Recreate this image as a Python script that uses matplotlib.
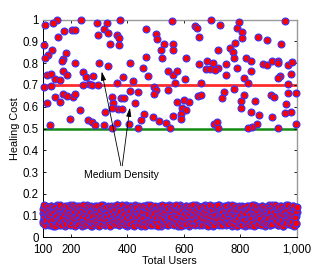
import numpy as np
import matplotlib.pyplot as plt

plt.rcParams['font.family'] = ['Liberation Sans', 'DejaVu Sans']

# users with high healing cost
high_users = [152, 235, 138, 108, 293, 327, 176, 203, 214, 317, 297, 153, 105, 133, 120, 107, 183, 173, 168, 214,
              300, 333, 244, 171, 116, 129, 144, 161, 185, 253, 279, 244, 265, 274, 297, 105, 129, 145, 173, 185,
              206, 214, 114, 161, 232, 321, 197, 262, 274, 126, 285, 317,
              373, 362, 370, 332, 337, 370, 465, 502, 506, 531, 519, 563, 563, 465, 524, 409, 454, 474,
              383, 419, 362, 545, 563, 495, 500, 495, 545, 439, 409, 347, 376, 388, 350, 427, 368, 347,
              380, 460, 492, 563, 448, 513, 362, 406, 536, 344, 439, 551,
              695, 728, 640, 646, 655, 787, 557, 781, 764, 775, 722, 778, 608, 683, 704, 655, 750, 787,
              722, 679, 693, 711, 575, 750, 604, 568, 660, 742, 779, 734, 651, 660, 601, 577, 619, 593,
              608, 589, 589, 707, 719, 722,
              958, 796, 807, 805, 862, 896, 943, 820, 838, 882, 894, 914, 933, 935, 970, 984, 837, 980,
              941, 935, 814, 826, 970, 814, 803, 852, 909, 921, 968, 998, 961, 803, 838, 958, 980, 867,
              911, 858, 841, 826, 935, 998]
high_cost = [1.0, 1.0, 0.985, 0.977, 0.985, 0.985, 0.946, 0.954, 0.954, 0.958, 0.928, 0.919, 0.885, 0.859, 0.839,
             0.824, 0.847, 0.819, 0.808, 0.803, 0.803, 0.785, 0.759, 0.765, 0.747, 0.750, 0.728, 0.724, 0.744,
             0.736, 0.739, 0.698, 0.704, 0.698, 0.70, 0.693, 0.695, 0.647, 0.659, 0.650, 0.647, 0.658, 0.617,
             0.624, 0.586, 0.578, 0.543, 0.540, 0.532, 0.517, 0.517, 0.517,
             1.0, 0.928, 0.916, 0.939, 0.888, 0.885, 0.958, 0.934, 0.913, 0.888, 0.862, 0.888, 0.862, 0.828,
             0.824, 0.803, 0.778, 0.739, 0.736, 0.719, 0.711, 0.762, 0.747, 0.693, 0.678, 0.659, 0.675, 0.670,
             0.673, 0.643, 0.640, 0.640, 0.617, 0.619, 0.590, 0.594, 0.590, 0.566, 0.555, 0.558, 0.540, 0.535,
             0.525, 0.521, 0.525, 0.504, 0.504, 0.502,
             1.0, 0.977, 0.969, 0.962, 0.919, 0.962, 0.992, 0.893, 0.870, 0.851, 0.862, 0.824, 0.826, 0.811,
             0.803, 0.797, 0.797, 0.778, 0.778, 0.773, 0.773, 0.770, 0.765, 0.747, 0.728, 0.709, 0.709, 0.670,
             0.682, 0.640, 0.650, 0.654, 0.632, 0.621, 0.621, 0.596, 0.586, 0.566, 0.543, 0.521, 0.529, 0.504,
             0.992, 0.989, 0.943, 0.916, 0.919, 0.908, 0.888, 0.826, 0.808, 0.796, 0.790, 0.811, 0.811, 0.801,
             0.790, 0.805, 0.762, 0.750, 0.739, 0.734, 0.731, 0.711, 0.705, 0.652, 0.627, 0.627, 0.655, 0.647,
             0.663, 0.665, 0.612, 0.594, 0.578, 0.571, 0.574, 0.560, 0.551, 0.520, 0.509, 0.502, 0.502, 0.520]

# users with low healing cost
low_users = [100, 101, 104, 106, 109, 110, 113, 115, 118, 121, 122, 124, 127, 130, 131, 134, 135, 138, 141, 142,
             145, 148, 149, 151, 154, 157, 158, 160, 163, 166, 167, 170, 173, 174, 176, 179, 182, 183, 186, 188,
             191, 193, 195, 198, 200, 201, 204, 207, 208, 211, 213, 216, 217, 220, 223, 224, 226, 229, 232, 233,
             236, 238, 240, 242, 245, 247, 250, 251, 254, 256, 258, 261, 263, 265, 267, 270, 272, 274, 276, 279,
             281, 282, 285, 287, 290, 291, 294, 297, 298, 300, 303, 305, 307, 310, 312, 314, 316, 319, 321, 323,
             325, 328, 330, 332, 335, 337, 339, 341, 344, 346, 348, 351, 353, 355, 357, 360, 362, 364, 366, 369,
             371, 373, 375, 378, 380, 382, 384, 387, 389, 391, 394, 396, 398, 400, 403, 405, 407, 410, 411, 414,
             416, 419, 420, 423, 425, 428, 430, 432, 434, 437, 439, 441, 443, 446, 448, 450, 452, 455, 457, 459,
             461, 464, 466, 468, 470, 473, 474, 477, 479, 482, 484, 486, 488, 491, 493, 495, 497, 500, 502, 504,
             506, 509, 511, 513, 515, 518, 520, 522, 525, 527, 529, 531, 534, 536, 538, 540, 543, 545, 547, 549,
             551, 554, 556, 558, 560, 563, 565, 567, 569, 572, 574, 576, 579, 581, 583, 585, 588, 590, 592, 594,
             597, 599, 601, 603, 606, 608, 610, 613, 615, 617, 619, 622, 624, 626, 628, 631, 633, 635, 638, 640,
             642, 644, 647, 649, 651, 653, 656, 658, 660, 663, 665, 667, 669, 672, 674, 676, 678, 681, 683, 685,
             688, 690, 692, 694, 697, 699, 701, 703, 706, 708, 710, 712, 715, 717, 719, 722, 724, 726, 728, 730,
             732, 735, 737, 739, 742, 744, 746, 748, 751, 753, 755, 757, 760, 762, 764, 766, 769, 771, 773, 775,
             778, 780, 782, 785, 787, 789, 791, 794, 796, 798, 800, 803, 805, 807, 809, 812, 814, 816, 818, 820,
             823, 825, 827, 830, 832, 834, 836, 839, 841, 843, 845, 848, 850, 852, 855, 857, 859, 861, 864, 866,
             868, 870, 873, 875, 877, 879, 882, 884, 886, 889, 891, 893, 895, 898, 900, 902, 904, 907, 909, 911,
             913, 916, 918, 920, 922, 925, 927, 929, 932, 934, 936, 938, 941, 943, 945, 947, 950, 952, 954, 957,
             959, 961, 963, 966, 968, 970, 972, 975, 977, 979, 981, 984, 986, 988, 991, 993, 995, 997, 999, 1000]
# two overlapping low-cost values per user position, in thousandths
low_cost_a = [112, 74, 138, 95, 61, 127, 143, 83, 105, 58, 131, 99, 70, 146, 117, 88, 54, 124, 102, 137,
              66, 91, 149, 79, 113, 57, 135, 96, 72, 121, 141, 63, 108, 85, 129, 52, 118, 97, 145, 76,
              133, 69, 101, 147, 81, 122, 56, 110, 139, 90, 64, 126, 103, 75, 144, 59, 115, 93, 136, 68,
              128, 87, 51, 119, 142, 98, 71, 132, 60, 107, 148, 84, 123, 94, 65, 140, 78, 111, 53, 134,
              92, 125, 67, 146, 104, 80, 57, 130, 115, 73, 139, 99, 62, 121, 86, 148, 109, 55, 137, 77,
              118, 94, 143, 66, 127, 101, 59, 134, 89, 112, 71, 145, 97, 63, 124, 82, 150, 106, 75, 131,
              58, 141, 96, 119, 72, 135, 103, 64, 128, 87, 147, 111, 54, 138, 79, 122, 100, 68, 144, 91,
              57, 116, 133, 74, 105, 149, 83, 61, 126, 97, 140, 70, 113, 88, 52, 136, 120, 65, 108, 142,
              85, 127, 60, 148, 99, 76, 137, 114, 55, 129, 92, 69, 145, 106, 81, 123, 58, 139, 97, 73,
              134, 110, 63, 146, 88, 120, 51, 131, 102, 77, 143, 94, 67, 125, 115, 56, 138, 84, 107, 149,
              71, 132, 98, 59, 144, 117, 80, 126, 62, 140, 103, 89, 53, 135, 111, 74, 147, 95, 66, 121,
              130, 57, 109, 86, 142, 100, 68, 128, 119, 54, 137, 91, 78, 146, 104, 61, 124, 113, 82, 139,
              147, 64, 118, 93, 135, 55, 107, 129, 78, 141, 99, 66, 124, 87, 150, 113, 58, 132, 96, 72,
              145, 105, 61, 127, 84, 138, 115, 52, 120, 90, 143, 69, 110, 134, 76, 101, 57, 148, 88, 123,
              60, 136, 94, 116, 73, 142, 102, 56, 128, 85, 149, 109, 67, 131, 97, 122, 54, 139, 81, 114,
              63, 146, 92, 125, 71, 133, 104, 59, 140, 87, 118, 75, 144, 98, 65, 127, 111, 52, 136, 79,
              126, 83, 144, 63, 110, 137, 91, 57, 122, 100, 70, 148, 116, 82, 130, 55, 141, 95, 68, 119,
              134, 61, 107, 88, 145, 74, 123, 103, 53, 138, 92, 66, 129, 114, 80, 147, 58, 120, 97, 133,
              104, 62, 139, 86, 121, 73, 146, 98, 55, 131, 112, 77, 143, 90, 64, 125, 108, 51, 136, 81,
              117, 149, 70, 101, 128, 59, 140, 94, 75, 132, 111, 56, 144, 85, 123, 67, 137, 99, 60, 118]
low_cost_b = [67, 129, 92, 148, 55, 114, 81, 139, 103, 62, 125, 97, 73, 144, 110, 58, 133, 86, 120, 51,
              141, 99, 76, 127, 64, 136, 106, 84, 149, 57, 118, 93, 131, 70, 112, 145, 60, 122, 89, 107,
              141, 78, 115, 56, 134, 100, 69, 147, 88, 123, 52, 137, 95, 74, 128, 109, 61, 143, 83, 119,
              66, 135, 97, 150, 72, 113, 58, 126, 91, 140, 64, 105, 132, 80, 117, 54, 146, 98, 71, 124,
              59, 138, 101, 77, 130, 66, 144, 112, 87, 53, 127, 96, 149, 68, 120, 84, 136, 57, 109, 92,
              141, 75, 118, 63, 133, 99, 52, 145, 86, 122, 70, 137, 104, 61, 128, 93, 147, 79, 114, 56,
              136, 85, 121, 64, 148, 97, 73, 131, 108, 55, 142, 89, 116, 67, 139, 102, 78, 125, 59, 146,
              94, 70, 133, 111, 53, 127, 87, 140, 99, 62, 118, 145, 76, 105, 130, 57, 123, 91, 143, 68,
              116, 53, 140, 94, 71, 128, 105, 62, 147, 83, 124, 98, 57, 135, 110, 76, 143, 89, 65, 130,
              119, 52, 138, 101, 74, 126, 92, 149, 60, 113, 135, 81, 121, 66, 144, 97, 56, 129, 107, 86,
              93, 145, 64, 119, 82, 136, 58, 103, 127, 72, 148, 96, 61, 132, 115, 79, 141, 54, 124, 90,
              67, 137, 106, 85, 146, 59, 120, 98, 134, 70, 111, 143, 63, 126, 88, 150, 75, 116, 95, 57,
              130, 76, 108, 142, 60, 121, 95, 137, 68, 114, 55, 145, 86, 126, 102, 63, 139, 81, 117, 52,
              133, 97, 72, 148, 110, 65, 127, 91, 143, 58, 120, 104, 74, 136, 84, 147, 62, 113, 99, 131,
              87, 119, 56, 141, 100, 75, 128, 64, 146, 93, 112, 59, 135, 82, 123, 70, 149, 106, 61, 131,
              96, 78, 140, 117, 54, 127, 89, 144, 66, 109, 134, 73, 121, 57, 138, 95, 80, 126, 113, 63,
              144, 71, 125, 94, 58, 136, 103, 82, 148, 66, 117, 131, 53, 109, 90, 142, 75, 120, 62, 139,
              99, 85, 127, 56, 146, 112, 69, 133, 97, 77, 124, 60, 141, 105, 87, 130, 55, 116, 93, 147,
              62, 134, 89, 115, 147, 76, 103, 128, 57, 140, 92, 68, 121, 109, 145, 80, 131, 54, 118, 97,
              73, 138, 65, 124, 100, 149, 84, 112, 59, 136, 94, 71, 143, 106, 52, 127, 88, 119, 66, 140]

upper_threshold = 0.7
lower_threshold = 0.5
x_ticks = [100, 200, 400, 600, 800, 1000]
x_tick_labels = ['100', '200', '400', '600', '800', '1,000']

assert len(high_users) == len(high_cost), (len(high_users), len(high_cost))
assert len(low_users) == len(low_cost_a) == len(low_cost_b), (len(low_users), len(low_cost_a), len(low_cost_b))

fig = plt.figure(figsize=(3.27, 2.69), dpi=100)
ax = fig.add_axes([0.1306, 0.1178, 0.7768, 0.809])

ax.axhline(upper_threshold, color='#ff2a2a', lw=2.0, zorder=1)
ax.axhline(lower_threshold, color='#138a13', lw=1.8, zorder=1)

mk = dict(linestyle='none', marker='o', markersize=5.0, markerfacecolor='#ff0000',
          markeredgecolor='#3535ff', markeredgewidth=0.8, clip_on=False, zorder=3)
low_a = np.array(low_cost_a) / 1000.0
low_b = np.array(low_cost_b) / 1000.0
ax.plot(low_users, low_a, **mk)
ax.plot(low_users, low_b, **mk)
ax.plot(high_users, high_cost, **mk)

arrow = dict(arrowstyle='-|>,head_length=0.7,head_width=0.2', color='black', lw=0.6,
             relpos=(0.5, 1.0), shrinkA=1, shrinkB=0)
ax.annotate('Medium Density', xy=(309, 0.762), xytext=(380, 0.31), ha='center', va='top',
            fontsize=7.5, arrowprops=arrow, zorder=4)
ax.annotate('Medium Density', xy=(409, 0.596), xytext=(380, 0.31), ha='center', va='top',
            fontsize=7.5, arrowprops=arrow, zorder=4, alpha=0.0)

ax.set_xlim(100, 1000)
ax.set_ylim(0, 1)
ax.set_xticks(x_ticks)
ax.set_xticklabels(x_tick_labels)
ax.set_yticks(np.arange(0, 1.01, 0.1))
ax.set_yticklabels(['0', '0.1', '0.2', '0.3', '0.4', '0.5', '0.6', '0.7', '0.8', '0.9', '1'])
ax.tick_params(direction='in', length=2.5, width=0.6, labelsize=8.3, top=True, right=True)
ax.tick_params(axis='x', pad=4.5)
ax.tick_params(axis='y', pad=3)
ax.set_xlabel('Total Users', fontsize=7.8, labelpad=0)
ax.set_ylabel('Healing Cost', fontsize=7.8, labelpad=2)
for side in ['left', 'bottom']:
    ax.spines[side].set_linewidth(0.7)
for side in ['top', 'right']:
    ax.spines[side].set_color('#999999')
    ax.spines[side].set_linewidth(1.0)

plt.savefig('out.png', dpi=100)
